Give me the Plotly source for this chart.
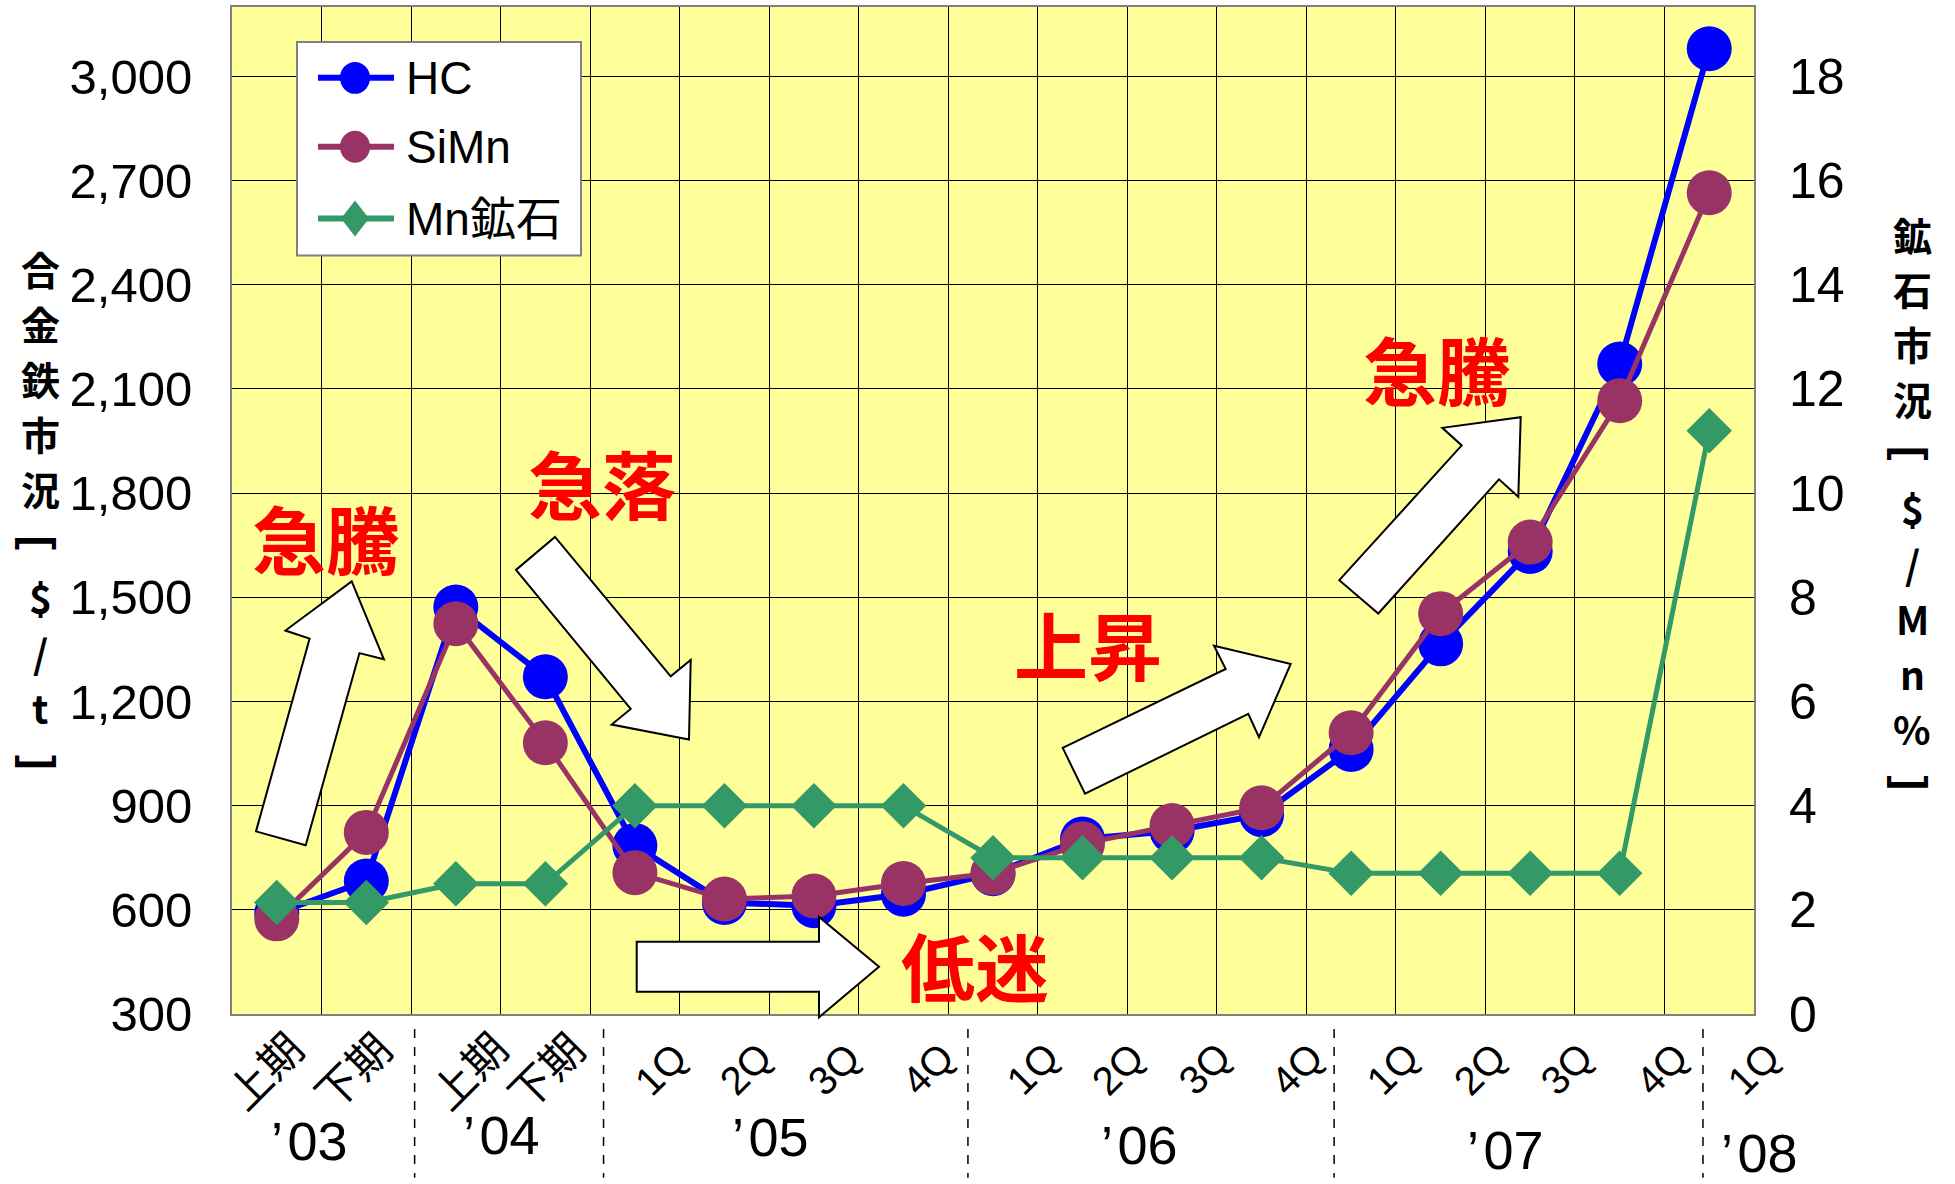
import plotly.graph_objects as go

# ---- data -------------------------------------------------------------
periods = ["上期", "下期", "上期", "下期",
           "1Q", "2Q", "3Q", "4Q",
           "1Q", "2Q", "3Q", "4Q",
           "1Q", "2Q", "3Q", "4Q",
           "1Q"]
years = ["’\u200a03", "’\u200a04", "’\u200a05", "’\u200a06", "’\u200a07", "’\u200a08"]

hc = [590, 683, 1472, 1271, 785, 621, 612, 645, 704, 804, 827, 874,
      1062, 1366, 1632, 2172, 3080]                      # $/t
simn = [574, 823, 1424, 1081, 707, 631, 640, 676, 706, 790, 843, 894,
        1110, 1453, 1659, 2066, 2665]                    # $/t
mn_ore = [2.14, 2.14, 2.5, 2.5, 4.0, 4.0, 4.0, 4.0, 3.0, 3.0, 3.0, 3.0,
          2.7, 2.7, 2.7, 2.7, 11.2]                      # $/Mn%

left_ticks = [300, 600, 900, 1200, 1500, 1800, 2100, 2400, 2700, 3000]
right_ticks = [0, 2, 4, 6, 8, 10, 12, 14, 16, 18]

series_names = ["HC", "SiMn", "Mn鉱石"]
callouts = ["急騰", "急落", "低迷", "上昇", "急騰"]
left_title = "合金鉄市況［$/t］"
right_title = "鉱石市況［$/Mn%］"

# ---- styling ----------------------------------------------------------
W, H = 1955, 1184
ML, MR, MT, MB = 232, 201, 5, 170
PW, PH = W - ML - MR, H - MT - MB
STEP = PW / len(periods)          # pixels per category

BLUE, PURPLE, GREEN = "#0000FF", "#993366", "#339966"
SANS = "Liberation Sans, Arial, Noto Sans CJK JP, sans-serif"
CJK = "Noto Sans CJK JP, Noto Sans CJK SC, sans-serif"


def paper(px, py):
    """Figure pixel position -> paper coordinates of the plot area."""
    return (px - ML) / PW, (H - MB - py) / PH


def path_of(points):
    pts = [paper(x, y) for x, y in points]
    return "M " + " L ".join(f"{x:.5f},{y:.5f}" for x, y in pts) + " Z"


def vertical_title(text, cx, cy, pitch, size):
    """Stack the characters of a title in one column centred at (cx, cy).
    Square brackets are turned a quarter so they open downward / upward,
    as in vertical Japanese typesetting."""
    brackets = {"［": "[", "］": "]"}
    top = cy - pitch * (len(text) - 1) / 2
    out = []
    for k, ch in enumerate(text):
        px_, py_ = paper(cx, top + k * pitch)
        item = dict(x=px_, y=py_, xref="paper", yref="paper",
                    showarrow=False, xanchor="center", yanchor="middle")
        if ch in brackets:
            item.update(text=brackets[ch], textangle=90,
                        font=dict(family=SANS, size=size + 5, color="black",
                                  weight="bold"))
        else:
            item.update(text=ch,
                        font=dict(family=CJK, size=size, color="black",
                                  weight="bold"))
        out.append(item)
    return out


n = len(periods)
xs = list(range(n))

fig = go.Figure()
fig.add_trace(go.Scatter(
    x=xs, y=hc, name=series_names[0], mode="lines+markers",
    line=dict(color=BLUE, width=6),
    marker=dict(symbol="circle", size=45, color=BLUE),
    cliponaxis=False))
fig.add_trace(go.Scatter(
    x=xs, y=simn, name=series_names[1], mode="lines+markers",
    line=dict(color=PURPLE, width=5),
    marker=dict(symbol="circle", size=45, color=PURPLE),
    cliponaxis=False))
fig.add_trace(go.Scatter(
    x=xs, y=mn_ore, name=series_names[2], mode="lines+markers", yaxis="y2",
    line=dict(color=GREEN, width=5),
    marker=dict(symbol="diamond", size=35, color=GREEN),
    cliponaxis=False))

shapes = []
annotations = []

# block arrows (figure pixel outlines)
arrows = [
    [(256, 831), (309.6, 637.8), (285.4, 629.8), (351.7, 580.5),
     (383.9, 658.6), (359.4, 652.4), (305.7, 845)],
    [(516, 569), (555, 536), (670.7, 675.7), (690.7, 659.3),
     (689, 739), (611.7, 724), (630.7, 708.3)],
    [(636.7, 941.7), (819, 941.7), (819, 916.7), (879, 966.7),
     (819, 1017.3), (819, 991.7), (636.7, 991.7)],
    [(1062.7, 747.3), (1225.7, 668.3), (1214, 645), (1290.7, 663.3),
     (1259, 736.7), (1248.3, 713.3), (1085, 793.3)],
    [(1339.3, 579.3), (1461.7, 444.3), (1442.3, 426.7), (1520.7, 416),
     (1518.3, 495.7), (1499, 478.3), (1378.3, 612.7)],
]
for pts in arrows:
    shapes.append(dict(type="path", xref="paper", yref="paper",
                       path=path_of(pts), fillcolor="white",
                       line=dict(color="black", width=2), layer="above"))

# red call-outs
callout_pos = [(326, 536), (602, 480), (975, 963), (1088, 642), (1437, 366)]
for txt, (cx, cy) in zip(callouts, callout_pos):
    px_, py_ = paper(cx, cy)
    annotations.append(dict(x=px_, y=py_, xref="paper", yref="paper",
                            text=f"<b>{txt}</b>", showarrow=False,
                            font=dict(family=CJK, size=74, color="#FF0000"),
                            xanchor="center", yanchor="middle"))

# category labels, rotated
label_shift = [-14, -15, 11, -1, 26, 21, 20, 24, 39, 35, 32, 35,
               41, 39, 36, 42, 44]
for i, lab in enumerate(periods):
    is_q = lab.endswith("Q")
    annotations.append(dict(
        x=i, xref="x", y=0, yref="paper",
        xshift=label_shift[i], yshift=-55,
        text=lab, textangle=-45, showarrow=False,
        xanchor="center", yanchor="middle",
        font=dict(family=SANS if is_q else CJK,
                  size=40 if is_q else 43, color="black")))

# year labels and separators
year_x = [0.36, 2.51, 5.52, 9.64, 13.72, 16.56]
year_y = [1141, 1135, 1137, 1145, 1150, 1153]
for txt, x, ypx in zip(years, year_x, year_y):
    xa = min(x, n - 0.5)
    annotations.append(dict(
        x=xa, xref="x", xshift=(x - xa) * STEP,
        y=paper(0, ypx)[1], yref="paper",
        text=txt, showarrow=False, xanchor="center", yanchor="middle",
        font=dict(family=SANS, size=54, color="black")))

for x in [1.54, 3.65, 7.72, 11.81, 15.93]:
    shapes.append(dict(type="line", xref="x", yref="paper",
                       x0=x, x1=x, y0=paper(0, 1029)[1], y1=paper(0, 1178)[1],
                       line=dict(color="black", width=1.5, dash="dash")))

# axis titles, stacked vertically
annotations += vertical_title(left_title, 40, 514, 55, 39)
annotations += vertical_title(right_title, 1912, 507, 55, 39)

# legend box
lx0, ly0, lx1, ly1 = 297, 40, 581, 254
x0p, y0p = paper(lx0, ly0)
x1p, y1p = paper(lx1, ly1)
shapes.append(dict(type="rect", xref="paper", yref="paper",
                   x0=x0p, x1=x1p, y0=y1p, y1=y0p, fillcolor="white",
                   line=dict(color="#808080", width=2), layer="above"))
entry_y = [76, 145, 217]
entry_colors = [BLUE, PURPLE, GREEN]
for k, (name, col, ey) in enumerate(zip(series_names, entry_colors, entry_y)):
    a, b = paper(318, ey)
    c, _ = paper(394, ey)
    shapes.append(dict(type="line", xref="paper", yref="paper",
                       x0=a, x1=c, y0=b, y1=b,
                       line=dict(color=col, width=6), layer="above"))
    if k < 2:
        p0 = paper(355 - 15, ey - 16)
        p1 = paper(355 + 15, ey + 16)
        shapes.append(dict(type="circle", xref="paper", yref="paper",
                           x0=p0[0], x1=p1[0], y0=p1[1], y1=p0[1],
                           fillcolor=col, line=dict(color=col, width=0),
                           layer="above"))
    else:
        shapes.append(dict(type="path", xref="paper", yref="paper",
                           path=path_of([(355, ey - 18), (369, ey),
                                         (355, ey + 18), (341, ey)]),
                           fillcolor=col, line=dict(color=col, width=0),
                           layer="above"))
    tx, ty = paper(404, ey)
    annotations.append(dict(x=tx, y=ty, xref="paper", yref="paper",
                            text=name, showarrow=False, xanchor="left",
                            yanchor="middle",
                            font=dict(family=SANS, size=46, color="black")))

fig.update_layout(
    width=W, height=H,
    margin=dict(l=ML, r=MR, t=MT, b=MB),
    paper_bgcolor="white", plot_bgcolor="#FFFF99",
    showlegend=False,
    shapes=shapes, annotations=annotations,
    xaxis=dict(range=[-0.5, n - 0.5],
               tickmode="array", tickvals=[i + 0.5 for i in range(-1, n)],
               showticklabels=False, ticks="",
               showgrid=True, gridcolor="#000000", gridwidth=1,
               zeroline=False, showline=True, linecolor="#808080",
               linewidth=2, mirror=True),
    yaxis=dict(range=[300, 3200], tickmode="array", tickvals=left_ticks,
               ticktext=[f"{v:,}" for v in left_ticks],
               tickfont=dict(family=SANS, size=49, color="black"),
               ticks="", ticklabelstandoff=28, automargin=False,
               showgrid=True, gridcolor="#000000", gridwidth=1,
               zeroline=False, showline=True, linecolor="#808080",
               linewidth=2, mirror=True),
    yaxis2=dict(range=[0, 19.3333], overlaying="y", side="right",
                tickmode="array", tickvals=right_ticks,
                tickfont=dict(family=SANS, size=50, color="black"),
                ticks="", ticklabelstandoff=34, automargin=False,
                showgrid=False, zeroline=False, showline=False),
)

fig.write_html("out.html")
